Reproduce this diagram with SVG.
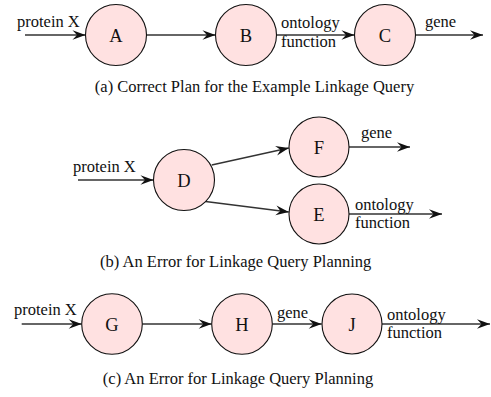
<svg xmlns="http://www.w3.org/2000/svg" width="491" height="397" viewBox="0 0 491 397">
  <style>
    .node circle { fill: #ffe1e1; stroke: #111; stroke-width: 1.1; }
    .node text { font-size: 18.5px; text-anchor: middle; fill: #111; }
    .edges line { stroke: #333; stroke-width: 1.3; marker-end: url(#arrow); }
    .lbl { font-size: 16.5px; fill: #111; }
    .cap { font-size: 16.5px; fill: #111; text-anchor: middle; }
  </style>
  <defs>
    <marker id="arrow" markerUnits="userSpaceOnUse" markerWidth="16" markerHeight="12" viewBox="-14 -6 16 12" refX="0" refY="0" orient="auto">
      <path d="M0,0 L-13,-4.8 L-8.5,0 L-13,4.8 Z" fill="#111"/>
    </marker>
  </defs>

  <!-- connectors -->
  <g class="edges">
    <!-- row a -->
    <line x1="25" y1="35" x2="85.5" y2="35"/>
    <line x1="146.5" y1="35" x2="215.5" y2="35"/>
    <line x1="276.5" y1="35" x2="354.5" y2="35"/>
    <line x1="415.5" y1="35" x2="483" y2="35"/>
    <!-- row b -->
    <line x1="78" y1="180" x2="153.5" y2="180"/>
    <line x1="211.7" y1="165" x2="288.8" y2="148"/>
    <line x1="205.5" y1="201.5" x2="288.8" y2="212"/>
    <line x1="349" y1="147" x2="410" y2="147"/>
    <line x1="349" y1="214" x2="442" y2="214"/>
    <!-- row c -->
    <line x1="21.7" y1="324" x2="81.7" y2="324"/>
    <line x1="142.3" y1="324" x2="211.7" y2="324"/>
    <line x1="272.3" y1="324" x2="321.7" y2="324"/>
    <line x1="382" y1="324" x2="490" y2="324"/>
  </g>

  <g font-family="Liberation Serif, Times New Roman, Times, serif">
    <!-- connector labels -->
    <g class="labels">
      <text class="lbl" x="17" y="27">protein X</text>
      <text class="lbl" x="281" y="28">ontology</text>
      <text class="lbl" x="281" y="46.5">function</text>
      <text class="lbl" x="425" y="27">gene</text>

      <text class="lbl" x="73" y="172">protein X</text>
      <text class="lbl" x="361" y="138">gene</text>
      <text class="lbl" x="355" y="210">ontology</text>
      <text class="lbl" x="355" y="227.5">function</text>

      <text class="lbl" x="14" y="315">protein X</text>
      <text class="lbl" x="277" y="318">gene</text>
      <text class="lbl" x="387" y="320">ontology</text>
      <text class="lbl" x="387" y="338">function</text>
    </g>

    <!-- nodes -->
    <g id="node-A" class="node"><circle cx="116" cy="35" r="30.5"/><text x="116" y="41.5">A</text></g>
    <g id="node-B" class="node"><circle cx="246" cy="35" r="30.5"/><text x="246" y="41.5">B</text></g>
    <g id="node-C" class="node"><circle cx="385" cy="35" r="30.5"/><text x="385" y="41.5">C</text></g>

    <g id="node-D" class="node"><circle cx="184" cy="180" r="30.5"/><text x="184" y="186.5">D</text></g>
    <g id="node-F" class="node"><circle cx="319" cy="147" r="30"/><text x="319" y="153.5">F</text></g>
    <g id="node-E" class="node"><circle cx="319" cy="214" r="30"/><text x="319" y="220.5">E</text></g>

    <g id="node-G" class="node"><circle cx="112" cy="324" r="30.3"/><text x="112" y="330.5">G</text></g>
    <g id="node-H" class="node"><circle cx="242" cy="324" r="30.3"/><text x="242" y="330.5">H</text></g>
    <g id="node-J" class="node"><circle cx="352" cy="324" r="30"/><text x="352" y="330.5">J</text></g>

    <!-- captions -->
    <text class="cap" x="254.5" y="92">(a) Correct Plan for the Example Linkage Query</text>
    <text class="cap" x="235.7" y="267">(b) An Error for Linkage Query Planning</text>
    <text class="cap" x="238" y="384">(c) An Error for Linkage Query Planning</text>
  </g>
</svg>
